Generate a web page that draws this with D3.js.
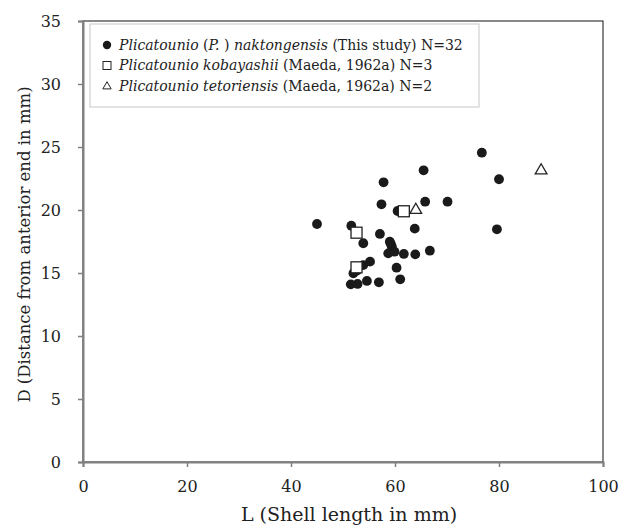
<!DOCTYPE html>
<html>
<head>
<meta charset="utf-8">
<script src="https://d3js.org/d3.v7.min.js"></script>
<style>
  body { margin: 0; background: #fff; }
  text { font-family: "DejaVu Serif", serif; fill: #222; }
</style>
</head>
<body>
<div id="chart"></div>
<script>
// Plicatounio (P.) naktongensis, this study, N=32  [L, D]
var naktongL = [76.7, 65.5, 80.0, 57.8, 57.4, 65.8, 70.1, 60.5, 45.0, 51.6, 63.8, 79.6, 57.1, 53.9, 59.0, 59.4,
                58.7, 59.9, 61.7, 63.9, 66.7, 55.2, 53.9, 52.0, 60.3, 61.0, 51.5, 52.8, 54.6, 56.9, 52.7, 59.2];
var naktongD = [24.55, 23.15, 22.44, 22.2, 20.45, 20.66, 20.66, 19.92, 18.89, 18.75, 18.52, 18.47, 18.1, 17.36, 17.48, 17.09,
                16.56, 16.69, 16.51, 16.48, 16.77, 15.9, 15.63, 14.98, 15.42, 14.5, 14.1, 14.13, 14.37, 14.26, 15.2, 17.3];
// P. kobayashii (Maeda, 1962a) N=3
var kobayashiiL = [61.7, 52.6, 52.6];
var kobayashiiD = [19.9, 18.2, 15.45];
// P. tetoriensis (Maeda, 1962a) N=2
var tetoriensisL = [64.0, 88.1];
var tetoriensisD = [20.0, 23.13];

var xTicks = [0, 20, 40, 60, 80, 100];
var yTicks = [0, 5, 10, 15, 20, 25, 30, 35];

var W = 624, H = 527;
var margin = {left: 83, right: 21, top: 21, bottom: 65};

var svg = d3.select("#chart").append("svg")
    .attr("width", W).attr("height", H);

var x = d3.scaleLinear().domain([0, 100]).range([margin.left, W - margin.right]);
var y = d3.scaleLinear().domain([0, 35]).range([H - margin.bottom, margin.top]);

// plot frame
svg.append("rect")
    .attr("x", x(0)).attr("y", y(35))
    .attr("width", x(100) - x(0)).attr("height", y(0) - y(35))
    .attr("fill", "none").attr("stroke", "#3a3a3a").attr("stroke-width", 1.2);

// axes
var xAxis = svg.append("g")
    .attr("transform", "translate(0," + y(0) + ")")
    .call(d3.axisBottom(x).tickValues(xTicks).tickSize(5).tickPadding(14));
var yAxis = svg.append("g")
    .attr("transform", "translate(" + x(0) + ",0)")
    .call(d3.axisLeft(y).tickValues(yTicks).tickSize(5).tickPadding(17));

[xAxis, yAxis].forEach(function(g) {
    g.select(".domain").attr("stroke", "#808080").attr("stroke-width", 2);
    g.selectAll(".tick line").attr("stroke", "#808080").attr("stroke-width", 1.5);
    g.selectAll(".tick text").style("font-family", "DejaVu Serif").style("font-size", "16px").attr("fill", "#222");
});

// axis titles
svg.append("text")
    .attr("x", (x(0) + x(100)) / 2 + 6).attr("y", 521)
    .attr("text-anchor", "middle").style("font-size", "19px")
    .text("L (Shell length in mm)");
svg.append("text")
    .attr("transform", "translate(30," + ((y(0) + y(35)) / 2 + 3) + ") rotate(-90)")
    .attr("text-anchor", "middle").style("font-size", "16.5px")
    .text("D (Distance from anterior end in mm)");

// points
var naktong = naktongL.map(function(l, i) { return [l, naktongD[i]]; });
var koba = kobayashiiL.map(function(l, i) { return [l, kobayashiiD[i]]; });
var teto = tetoriensisL.map(function(l, i) { return [l, tetoriensisD[i]]; });

svg.append("g").selectAll("circle").data(naktong).enter().append("circle")
    .attr("cx", function(d) { return x(d[0]); })
    .attr("cy", function(d) { return y(d[1]); })
    .attr("r", 4.9).attr("fill", "#1a1a1a");

svg.append("g").selectAll("rect").data(koba).enter().append("rect")
    .attr("x", function(d) { return x(d[0]) - 5.5; })
    .attr("y", function(d) { return y(d[1]) - 5.5; })
    .attr("width", 11).attr("height", 11)
    .attr("fill", "#fff").attr("stroke", "#222").attr("stroke-width", 1.3);

var tri = d3.symbol().type(d3.symbolTriangle).size(60);
svg.append("g").selectAll("path").data(teto).enter().append("path")
    .attr("transform", function(d) { return "translate(" + x(d[0]) + "," + y(d[1]) + ")"; })
    .attr("d", tri)
    .attr("fill", "#fff").attr("stroke", "#222").attr("stroke-width", 1.3);

// legend
var lg = svg.append("g");
lg.append("rect")
    .attr("x", 90).attr("y", 24).attr("width", 389).attr("height", 83)
    .attr("fill", "#fff").attr("stroke", "#c8c8c8");

var rows = [
    {y: 45, parts: [["Plicatounio", true], [" (", false], ["P.", true], [" ) ", false], ["naktongensis", true], [" (This study) N=32", false]]},
    {y: 65.5, parts: [["Plicatounio kobayashii", true], [" (Maeda, 1962a) N=3", false]]},
    {y: 86, parts: [["Plicatounio tetoriensis", true], [" (Maeda, 1962a) N=2", false]]}
];
rows.forEach(function(r) {
    var t = lg.append("text").attr("x", 119).attr("y", r.y).attr("dy", "0.35em")
        .style("font-size", "14px").attr("xml:space", "preserve");
    r.parts.forEach(function(p) {
        t.append("tspan").style("font-style", p[1] ? "italic" : "normal").text(p[0]);
    });
});
lg.append("circle").attr("cx", 107).attr("cy", rows[0].y).attr("r", 4.2).attr("fill", "#1a1a1a");
lg.append("rect").attr("x", 103).attr("y", rows[1].y - 4).attr("width", 8).attr("height", 8)
    .attr("fill", "#fff").attr("stroke", "#222").attr("stroke-width", 1);
lg.append("path").attr("transform", "translate(107," + (rows[2].y + 0.5) + ")")
    .attr("d", d3.symbol().type(d3.symbolTriangle).size(30))
    .attr("fill", "#fff").attr("stroke", "#222").attr("stroke-width", 1);
</script>
</body>
</html>
